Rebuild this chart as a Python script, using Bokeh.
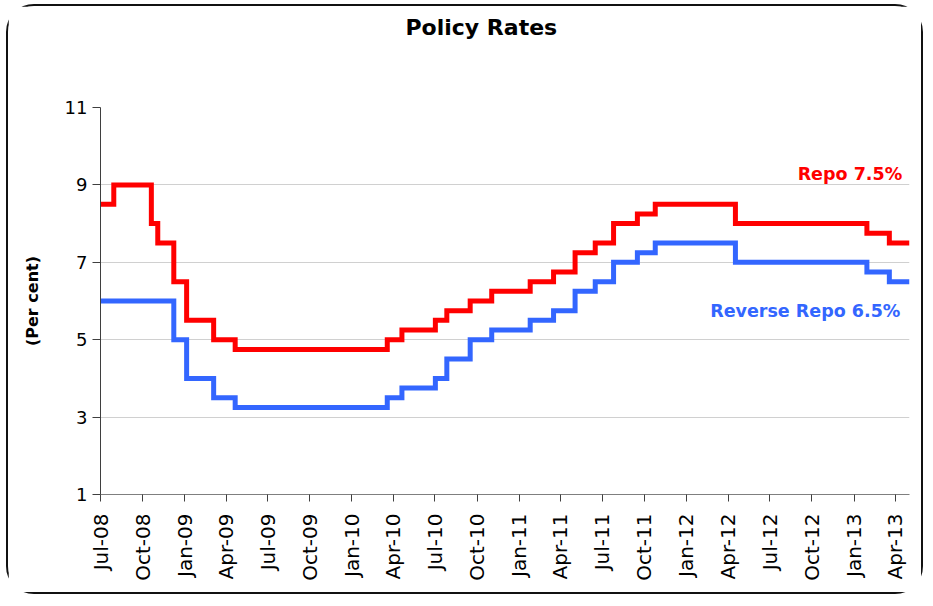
import pandas as pd
from bokeh.plotting import figure
from bokeh.models import FixedTicker, Label, Range1d, Title
from bokeh.embed import file_html
from bokeh.resources import INLINE

# ---- data ----
repo_dates = ["2008-07-01", "2008-07-30", "2008-10-20", "2008-11-03", "2008-12-08",
              "2009-01-05", "2009-03-05", "2009-04-21", "2010-03-19", "2010-04-20",
              "2010-07-02", "2010-07-27", "2010-09-16", "2010-11-02", "2011-01-25",
              "2011-03-17", "2011-05-03", "2011-06-16", "2011-07-26", "2011-09-16",
              "2011-10-25", "2012-04-17", "2013-01-29", "2013-03-19", "2013-05-02"]
repo_rate = [8.5, 9.0, 8.0, 7.5, 6.5, 5.5, 5.0, 4.75, 5.0, 5.25, 5.5, 5.75, 6.0, 6.25,
             6.5, 6.75, 7.25, 7.5, 8.0, 8.25, 8.5, 8.0, 7.75, 7.5, 7.5]

rev_dates = ["2008-07-01", "2008-12-08", "2009-01-05", "2009-03-05", "2009-04-21",
             "2010-03-19", "2010-04-20", "2010-07-02", "2010-07-27", "2010-09-16",
             "2010-11-02", "2011-01-25", "2011-03-17", "2011-05-03", "2011-06-16",
             "2011-07-26", "2011-09-16", "2011-10-25", "2012-04-17", "2013-01-29",
             "2013-03-19", "2013-05-02"]
rev_rate = [6.0, 5.0, 4.0, 3.5, 3.25, 3.5, 3.75, 4.0, 4.5, 5.0, 5.25, 5.5, 5.75, 6.25,
            6.5, 7.0, 7.25, 7.5, 7.0, 6.75, 6.5, 6.5]

x_tick_labels = ["Jul-08", "Oct-08", "Jan-09", "Apr-09", "Jul-09", "Oct-09", "Jan-10",
                 "Apr-10", "Jul-10", "Oct-10", "Jan-11", "Apr-11", "Jul-11", "Oct-11",
                 "Jan-12", "Apr-12", "Jul-12", "Oct-12", "Jan-13", "Apr-13"]
y_ticks = [1, 3, 5, 7, 9, 11]

title_text = "Policy Rates"
y_label = "(Per cent)"
repo_label = "Repo 7.5%"
rev_label = "Reverse Repo 6.5%"

RED = "#FF0000"
BLUE = "#3366FF"

repo_x = pd.to_datetime(repo_dates)
rev_x = pd.to_datetime(rev_dates)
tick_dt = [pd.to_datetime(t, format="%b-%y") for t in x_tick_labels]
tick_ms = [t.value / 1e6 for t in tick_dt]

W, H = 917, 590
p = figure(width=W, height=H, output_backend="svg", toolbar_location=None,
           title=None,
           x_axis_type="datetime",
           x_range=Range1d(repo_x[0], repo_x[-1]),
           y_range=Range1d(1, 11),
           min_border_left=92, min_border_right=W - 901,
           min_border_top=0, min_border_bottom=H - 488,
           background_fill_color="white", border_fill_color="white")
p.styles = {"border": "2px solid #111111", "border-radius": "28px",
            "margin-left": "6px", "margin-top": "4px"}
p.outline_line_color = None

# spacer (nearest the frame), then the visible title on top
p.add_layout(Title(text=" ", text_font_size="1px", standoff=59), "above")
p.add_layout(Title(text=title_text, align="left", offset=305, standoff=12,
                   text_color="black", text_font="DejaVu Sans",
                   text_font_style="bold", text_font_size="22px"), "above")

# axes
p.xaxis.ticker = FixedTicker(ticks=tick_ms)
p.xaxis.major_label_overrides = {ms: lab for ms, lab in zip(tick_ms, x_tick_labels)}
p.xaxis.major_label_orientation = 1.5708
p.xaxis.major_label_text_font = "DejaVu Sans"
p.xaxis.major_label_text_font_size = "20px"
p.xaxis.major_label_text_color = "black"
p.xaxis.major_tick_out = 7
p.xaxis.major_tick_in = 0
p.xaxis.minor_tick_line_color = None
p.xaxis.axis_line_color = "#7f7f7f"
p.xaxis.major_tick_line_color = "#3f3f3f"
p.xaxis.major_label_standoff = 12

p.yaxis.ticker = FixedTicker(ticks=y_ticks)
p.yaxis.major_label_text_font = "DejaVu Sans"
p.yaxis.major_label_text_font_size = "18px"
p.yaxis.major_label_text_color = "black"
p.yaxis.major_tick_out = 8
p.yaxis.major_tick_in = 0
p.yaxis.minor_tick_line_color = None
p.yaxis.axis_line_color = "#3f3f3f"
p.yaxis.major_tick_line_color = "#3f3f3f"
p.yaxis.axis_label = y_label
p.yaxis.axis_label_text_font = "DejaVu Sans"
p.yaxis.axis_label_text_font_style = "bold"
p.yaxis.axis_label_text_font_size = "16px"
p.yaxis.axis_label_text_color = "black"
p.yaxis.axis_label_standoff = 20

p.xgrid.grid_line_color = None
p.ygrid.grid_line_color = "#d0d0d0"
p.ygrid.grid_line_width = 1

# series
p.step(repo_x, repo_rate, mode="after", line_color=RED, line_width=5, line_join="miter")
p.step(rev_x, rev_rate, mode="after", line_color=BLUE, line_width=5, line_join="miter")

lab_x = pd.Timestamp("2013-04-16").value / 1e6
p.add_layout(Label(x=lab_x, y=9.29, text=repo_label, text_align="right",
                   text_baseline="middle", text_color=RED, text_font="DejaVu Sans",
                   text_font_style="bold", text_font_size="17.5px"))
p.add_layout(Label(x=lab_x - 4 * 86400000, y=5.73, text=rev_label, text_align="right",
                   text_baseline="middle", text_color=BLUE, text_font="DejaVu Sans",
                   text_font_style="bold", text_font_size="17.5px"))

open("out.html", "w").write(file_html(p, INLINE))
